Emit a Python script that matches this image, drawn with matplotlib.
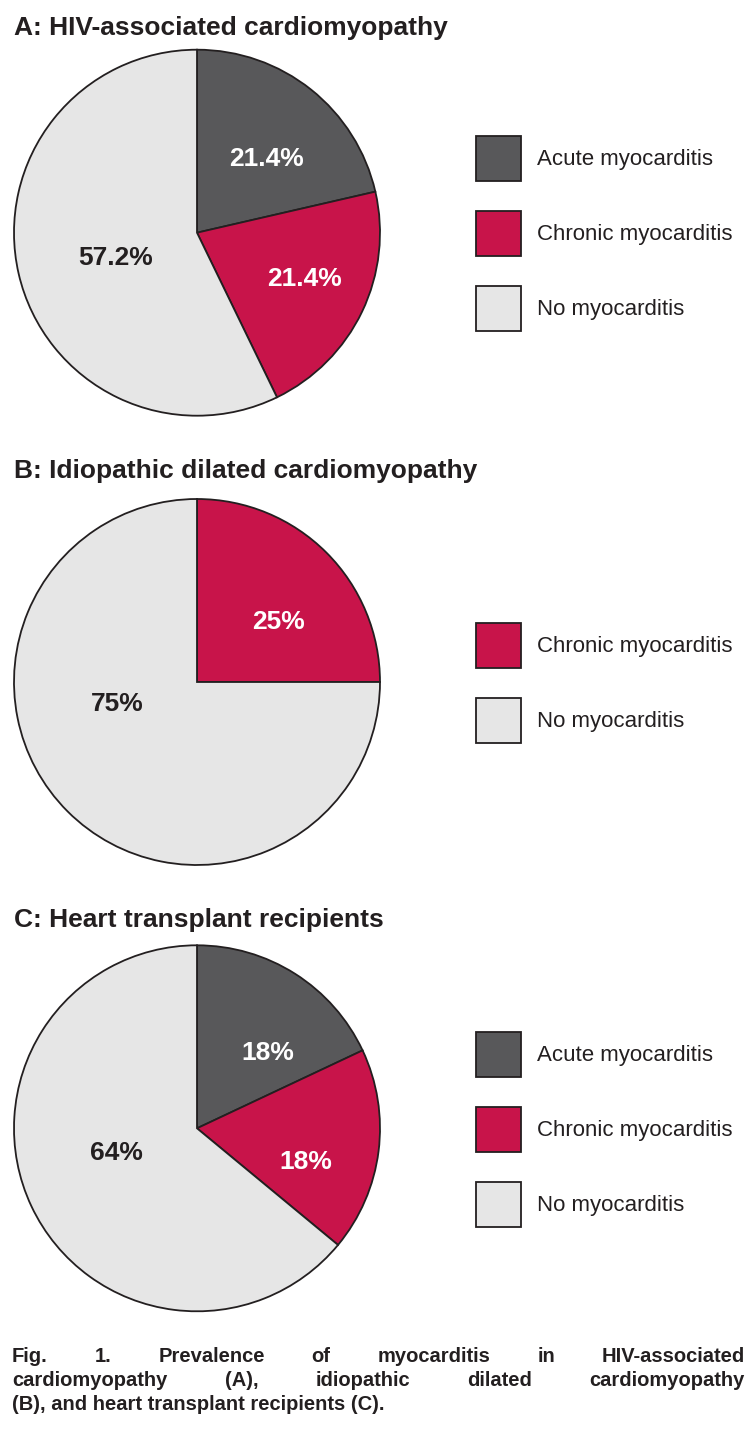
import matplotlib
matplotlib.use('Agg')
import matplotlib.pyplot as plt
from matplotlib import font_manager

W, H = 756, 1439
DPI = 100

# data
categories = ['Acute myocarditis', 'Chronic myocarditis', 'No myocarditis']
cat_colors = {'Acute myocarditis': '#58585a',
              'Chronic myocarditis': '#c8144a',
              'No myocarditis': '#e6e6e6'}

titles = ['A: HIV-associated cardiomyopathy',
          'B: Idiopathic dilated cardiomyopathy',
          'C: Heart transplant recipients']

hiv_cats = ['Acute myocarditis', 'Chronic myocarditis', 'No myocarditis']
hiv_vals = [21.4, 21.4, 57.2]
hiv_labels = ['21.4%', '21.4%', '57.2%']

idc_cats = ['Chronic myocarditis', 'No myocarditis']
idc_vals = [25, 75]
idc_labels = ['25%', '75%']

htx_cats = ['Acute myocarditis', 'Chronic myocarditis', 'No myocarditis']
htx_vals = [18, 18, 64]
htx_labels = ['18%', '18%', '64%']

caption_lines = ['Fig. 1. Prevalence of myocarditis in HIV-associated',
                 'cardiomyopathy (A), idiopathic dilated cardiomyopathy',
                 '(B), and heart transplant recipients (C).']

# layout (pixels)
R = 183
pie_cx = 197
pie_cy = [232.7, 682, 1128.3]
title_base = [35, 478, 927]
label_pos = [[(0.381, 0.419), (0.590, -0.237), (-0.443, -0.127)],
             [(0.443, 0.342), (-0.438, -0.105)],
             [(0.385, 0.426), (0.594, -0.173), (-0.439, -0.122)]]
cap_base = [1362, 1386, 1410]
cap_left, cap_right = 12, 745

ink = '#231f20'
fams = {f.name for f in font_manager.fontManager.ttflist}
if 'Liberation Sans Narrow' in fams:
    cap_font, cap_size = 'Liberation Sans Narrow', 16.5
else:
    cap_font, cap_size = 'Liberation Sans', 14.5

# legend sizing: 45 px squares, 75 px row pitch
leg_size = 16
fs_px = leg_size * DPI / 72
box = 45
hh = (box / fs_px - 0.245) / 0.65
hl = box / fs_px
ls = (75 - box) / fs_px

fig = plt.figure(figsize=(W / DPI, H / DPI), dpi=DPI)
fig.patch.set_facecolor('white')

panels = [(hiv_cats, hiv_vals, hiv_labels),
          (idc_cats, idc_vals, idc_labels),
          (htx_cats, htx_vals, htx_labels)]

pad = 1.05
for i, (cats, vals, labs) in enumerate(panels):
    cy = pie_cy[i]
    size = 2 * R * pad
    ax = fig.add_axes([(pie_cx - R * pad) / W, 1 - (cy + R * pad) / H, size / W, size / H])
    wedges, _ = ax.pie(vals, colors=[cat_colors[c] for c in cats], startangle=90,
                       counterclock=False,
                       wedgeprops=dict(edgecolor=ink, linewidth=1.3))
    ax.set_xlim(-pad, pad)
    ax.set_ylim(-pad, pad)
    ax.set_aspect('equal')
    ax.axis('off')

    for (ox, oy), lab, c in zip(label_pos[i], labs, cats):
        col = ink if c == 'No myocarditis' else 'white'
        ax.text(ox, oy - 0.052, lab, ha='center', va='baseline', color=col,
                fontsize=19, fontweight='bold', family='Liberation Sans')

    fig.text(14 / W, 1 - title_base[i] / H, titles[i], ha='left', va='baseline',
             fontsize=19, fontweight='bold', family='Liberation Sans', color=ink)

    ax.legend(wedges, cats, loc='center left',
              bbox_to_anchor=(476 / W, 1 - (cy + 1) / H), bbox_transform=fig.transFigure,
              frameon=False, prop={'family': 'Liberation Sans', 'size': leg_size},
              handlelength=hl, handleheight=hh, labelspacing=ls,
              handletextpad=16 / fs_px, borderpad=0, borderaxespad=0, labelcolor=ink)

# justified caption
fig.canvas.draw()
rend = fig.canvas.get_renderer()
for i, line in enumerate(caption_lines):
    y = 1 - cap_base[i] / H
    kw = dict(ha='left', va='baseline', fontsize=cap_size, fontweight='bold',
              family=cap_font, color=ink)
    if i < len(caption_lines) - 1:
        words = line.split()
        texts = [fig.text(0, y, w, **kw) for w in words]
        widths = [t.get_window_extent(rend).width for t in texts]
        gap = (cap_right - cap_left - sum(widths)) / (len(words) - 1)
        x = cap_left
        for t, wd in zip(texts, widths):
            t.set_x(x / W)
            x += wd + gap
    else:
        fig.text(cap_left / W, y, line, **kw)

fig.savefig('out.png', dpi=DPI, facecolor='white')
